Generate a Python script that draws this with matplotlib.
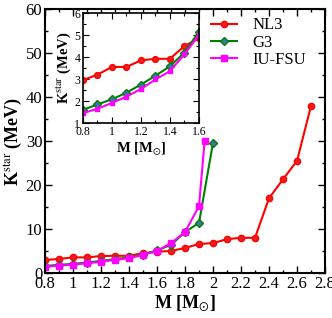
import matplotlib
matplotlib.use('Agg')
import matplotlib.pyplot as plt
from matplotlib.ticker import MultipleLocator

plt.rcParams['font.family'] = 'Liberation Serif'
plt.rcParams['mathtext.fontset'] = 'stix'

# NL3
m_nl3 = [0.8, 0.9, 1.0, 1.1, 1.2, 1.3, 1.4, 1.5, 1.6, 1.7, 1.8, 1.9, 2.0, 2.1, 2.2, 2.3, 2.4, 2.5, 2.6, 2.7]
k_nl3 = [2.95, 3.2, 3.55, 3.55, 3.85, 3.92, 3.92, 4.5, 4.85, 5.0, 5.7, 6.6, 6.8, 7.7, 8.0, 8.0, 17.0, 21.3, 25.5, 38.0]
# G3
m_g3 = [0.8, 0.9, 1.0, 1.1, 1.2, 1.3, 1.4, 1.5, 1.6, 1.7, 1.8, 1.9, 2.0]
k_g3 = [1.6, 1.85, 2.08, 2.38, 2.75, 3.15, 3.58, 4.2, 5.15, 6.4, 9.3, 11.4, 29.6]
# IU-FSU
m_iu = [0.8, 0.9, 1.0, 1.1, 1.2, 1.3, 1.4, 1.5, 1.6, 1.7, 1.8, 1.9, 1.94]
k_iu = [1.45, 1.65, 1.92, 2.2, 2.55, 2.98, 3.36, 4.12, 5.0, 6.8, 9.3, 15.2, 30.0]

fig = plt.figure(figsize=(3.32, 3.18), dpi=100)
ax = fig.add_axes([0.1355, 0.1415, 0.8435, 0.830])


def draw(a, ms):
    a.plot(m_nl3, k_nl3, color='red', marker='o', ms=ms, lw=1.5,
           mfc='#e82020', mec='red', label='NL3')
    a.plot(m_g3, k_g3, color='green', marker='D', ms=ms * 0.9, lw=1.5,
           mfc='#3a78a8', mec='green', label='G3')
    a.plot(m_iu, k_iu, color='magenta', marker='s', ms=ms * 0.85, lw=1.5,
           mfc='magenta', mec='magenta', label='IU-FSU')


draw(ax, 4.5)
ax.set_xlim(0.8, 2.8)
ax.set_ylim(0, 60)
ax.xaxis.set_minor_locator(MultipleLocator(0.1))
ax.yaxis.set_major_locator(MultipleLocator(10))
ax.yaxis.set_minor_locator(MultipleLocator(5))
ax.set_xticks([0.8, 1, 1.2, 1.4, 1.6, 1.8, 2, 2.2, 2.4, 2.6, 2.8])
ax.set_xticklabels(['0.8', '1', '1.2', '1.4', '1.6', '1.8', '2', '2.2', '2.4', '2.6', '2.8'])
ax.tick_params(which='both', direction='in', top=True, right=True, labelsize=12, pad=2)
ax.tick_params(which='major', length=5, width=1)
ax.tick_params(which='minor', length=2.5, width=1)
for s in ax.spines.values():
    s.set_linewidth(1.5)
ax.set_xlabel(r'M [M$_{\odot}$]', fontsize=13, fontweight='bold', labelpad=1)
ax.set_ylabel(r'K$^{\mathrm{star}}$ (MeV)', fontsize=13, fontweight='bold', labelpad=1)
ax.legend(loc='upper right', bbox_to_anchor=(0.985, 1.025), frameon=False, fontsize=12,
          handlelength=1.6, handletextpad=0.9, labelspacing=0.08)

ins = fig.add_axes([0.25, 0.613, 0.349, 0.346])
draw(ins, 4.2)
ins.set_xlim(0.8, 1.6)
ins.set_ylim(1, 6)
ins.xaxis.set_minor_locator(MultipleLocator(0.1))
ins.yaxis.set_major_locator(MultipleLocator(1))
ins.yaxis.set_minor_locator(MultipleLocator(0.5))
ins.set_xticks([0.8, 1, 1.2, 1.4, 1.6])
ins.set_xticklabels(['0.8', '1', '1.2', '1.4', '1.6'])
ins.tick_params(which='both', direction='in', top=True, right=True, labelsize=8.5, pad=2)
ins.tick_params(which='major', length=4, width=0.8)
ins.tick_params(which='minor', length=2, width=0.8)
for s in ins.spines.values():
    s.set_linewidth(1.2)
ins.set_xlabel(r'M [M$_{\odot}$]', fontsize=10.5, fontweight='bold', labelpad=2)
ins.set_ylabel(r'K$^{\mathrm{star}}$ (MeV)', fontsize=10.5, fontweight='bold', labelpad=1)

fig.savefig('out.png', dpi=100)
